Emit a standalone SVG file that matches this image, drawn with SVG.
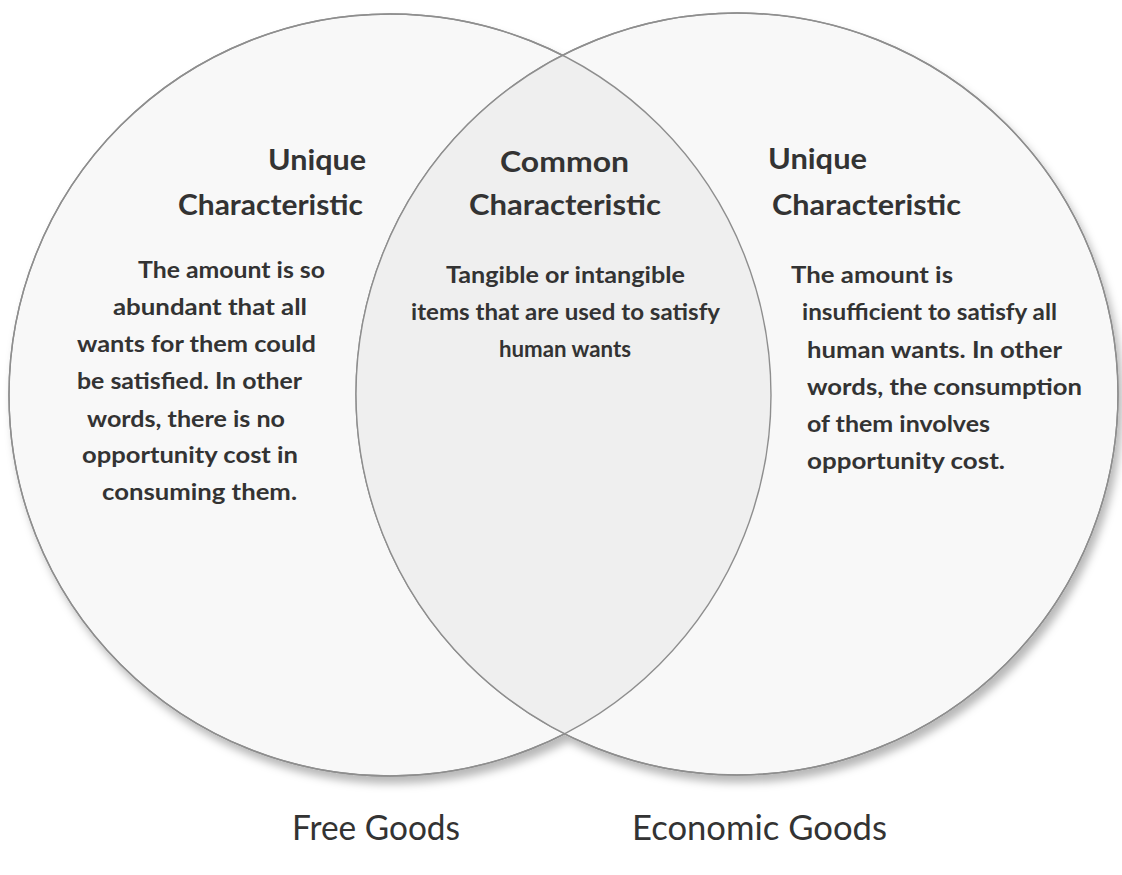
<svg xmlns="http://www.w3.org/2000/svg" width="1122" height="875" viewBox="0 0 1122 875">
  <defs>
    <filter id="shadow" x="-10%" y="-10%" width="125%" height="125%">
      <feGaussianBlur in="SourceAlpha" stdDeviation="4"/>
      <feOffset dx="4" dy="7" result="b"/>
      <feFlood flood-color="#000" flood-opacity="0.28"/>
      <feComposite in2="b" operator="in"/>
      <feMerge><feMergeNode/><feMergeNode in="SourceGraphic"/></feMerge>
    </filter>
    <clipPath id="clipLeft"><circle cx="390" cy="395" r="381"/></clipPath>
    <style>
      .circ { fill: #f8f8f8; stroke: #8e8e8e; stroke-width: 1.4; }
      .overlap { fill: #efefef; stroke: none; }
      .edge { fill: none; stroke: #8e8e8e; stroke-width: 1.4; }
      .head { font-family: Lato, "Liberation Sans", sans-serif; font-weight: bold; font-size: 29px; fill: #333333; }
      .body { font-family: Lato, "Liberation Sans", sans-serif; font-weight: bold; font-size: 22px; fill: #333333; }
      .label { font-family: Lato, "Open Sans", "Liberation Sans", sans-serif; font-size: 35px; fill: #333333; }
    </style>
  </defs>
  <rect x="0" y="0" width="1122" height="875" fill="#ffffff"/>

  <g id="circles" filter="url(#shadow)">
    <circle class="circ" cx="390" cy="395" r="381"/>
    <circle class="circ" cx="737" cy="394" r="381"/>
  </g>
  <g id="overlap-fill">
    <circle class="overlap" cx="737" cy="394" r="381" clip-path="url(#clipLeft)"/>
    <circle class="edge" cx="390" cy="395" r="381"/>
    <circle class="edge" cx="737" cy="394" r="381"/>
  </g>

  <g id="free-goods">
    <text class="head" x="366" y="170" text-anchor="end" textLength="98" lengthAdjust="spacingAndGlyphs">Unique</text>
    <text class="head" x="178" y="215" textLength="185" lengthAdjust="spacingAndGlyphs">Characteristic</text>
    <text class="body" x="138" y="278" textLength="187" lengthAdjust="spacingAndGlyphs">The amount is so</text>
    <text class="body" x="113" y="315" textLength="194" lengthAdjust="spacingAndGlyphs">abundant that all</text>
    <text class="body" x="77" y="352" textLength="239" lengthAdjust="spacingAndGlyphs">wants for them could</text>
    <text class="body" x="77" y="389" textLength="225" lengthAdjust="spacingAndGlyphs">be satisfied. In other</text>
    <text class="body" x="87" y="427" textLength="198" lengthAdjust="spacingAndGlyphs">words, there is no</text>
    <text class="body" x="82" y="463" textLength="216" lengthAdjust="spacingAndGlyphs">opportunity cost in</text>
    <text class="body" x="102" y="500" textLength="195" lengthAdjust="spacingAndGlyphs">consuming them.</text>
    <text class="label" x="292" y="840" textLength="168" lengthAdjust="spacingAndGlyphs">Free Goods</text>
  </g>

  <g id="common">
    <text class="head" x="500" y="172" textLength="129" lengthAdjust="spacingAndGlyphs">Common</text>
    <text class="head" x="469" y="215" textLength="192" lengthAdjust="spacingAndGlyphs">Characteristic</text>
    <text class="body" x="446" y="283" textLength="239" lengthAdjust="spacingAndGlyphs">Tangible or intangible</text>
    <text class="body" x="411" y="320" textLength="309" lengthAdjust="spacingAndGlyphs">items that are used to satisfy</text>
    <text class="body" x="499" y="357" textLength="132" lengthAdjust="spacingAndGlyphs">human wants</text>
  </g>

  <g id="economic-goods">
    <text class="head" x="768" y="169" textLength="99" lengthAdjust="spacingAndGlyphs">Unique</text>
    <text class="head" x="772" y="215" textLength="189" lengthAdjust="spacingAndGlyphs">Characteristic</text>
    <text class="body" x="791" y="283" textLength="162" lengthAdjust="spacingAndGlyphs">The amount is</text>
    <text class="body" x="802" y="320" textLength="255" lengthAdjust="spacingAndGlyphs">insufficient to satisfy all</text>
    <text class="body" x="807" y="358" textLength="255" lengthAdjust="spacingAndGlyphs">human wants. In other</text>
    <text class="body" x="807" y="395" textLength="275" lengthAdjust="spacingAndGlyphs">words, the consumption</text>
    <text class="body" x="807" y="432" textLength="183" lengthAdjust="spacingAndGlyphs">of them involves</text>
    <text class="body" x="807" y="469" textLength="198" lengthAdjust="spacingAndGlyphs">opportunity cost.</text>
    <text class="label" x="632" y="840" textLength="255" lengthAdjust="spacingAndGlyphs">Economic Goods</text>
  </g>
</svg>
